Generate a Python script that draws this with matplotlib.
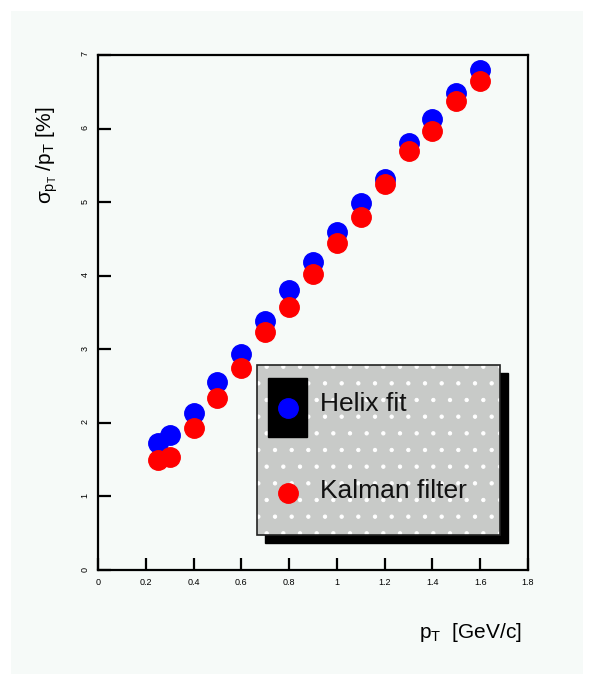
import matplotlib
matplotlib.use("Agg")
import matplotlib.pyplot as plt
from matplotlib.patches import Rectangle
from matplotlib.lines import Line2D

plt.rcParams["font.family"] = ["Liberation Sans", "DejaVu Sans"]
plt.rcParams["mathtext.fontset"] = "custom"
plt.rcParams["mathtext.rm"] = "Liberation Sans"
plt.rcParams["mathtext.it"] = "Liberation Sans"
plt.rcParams["hatch.color"] = "white"
plt.rcParams["hatch.linewidth"] = 0.7

# transverse momentum points [GeV/c]
pt = [0.25, 0.3, 0.4, 0.5, 0.6, 0.7, 0.8, 0.9, 1.0, 1.1, 1.2, 1.3, 1.4, 1.5, 1.6]
# relative resolution [%]
helix_fit = [1.73, 1.84, 2.14, 2.56, 2.94, 3.39, 3.81, 4.19, 4.60, 4.99, 5.31, 5.80, 6.13, 6.48, 6.80]
kalman_filter = [1.49, 1.54, 1.93, 2.34, 2.74, 3.24, 3.57, 4.02, 4.45, 4.80, 5.24, 5.69, 5.97, 6.37, 6.64]

xticks = [0, 0.2, 0.4, 0.6, 0.8, 1, 1.2, 1.4, 1.6, 1.8]
xticklabels = ["0", "0.2", "0.4", "0.6", "0.8", "1", "1.2", "1.4", "1.6", "1.8"]
yticks = [0, 1, 2, 3, 4, 5, 6, 7]

fig = plt.figure(figsize=(5.94, 6.85), dpi=100, facecolor="white")
bg = Rectangle((11 / 594, 11 / 685), 572 / 594, 663 / 685,
               transform=fig.transFigure, facecolor="#f6faf8",
               edgecolor="none", zorder=-5)
fig.patches.append(bg)

ax = fig.add_axes([98 / 594, 115 / 685, 430 / 594, 515 / 685], zorder=2)
ax.set_facecolor("#f6faf8")
ax.set_xlim(0, 1.8)
ax.set_ylim(0, 7)

ax.plot(pt, helix_fit, "o", color="#0000ff", ms=14, mec="#0000ff", zorder=3)
ax.plot(pt, kalman_filter, "o", color="#ff0000", ms=14, mec="#ff0000", zorder=4)

for s in ax.spines.values():
    s.set_linewidth(1.6)
ax.set_xticks(xticks)
ax.set_xticklabels(xticklabels)
ax.set_yticks(yticks)
ax.tick_params(direction="in", length=9, width=1.6, labelsize=6.5, pad=6)
ax.tick_params(axis="y", labelrotation=90)

# legend box with shadow and dotted fill
lx0, ly0, lw, lh = 0.370, 0.068, 0.565, 0.330
ax.add_patch(Rectangle((lx0 + 0.019, ly0 - 0.016), lw, lh, transform=ax.transAxes,
                       facecolor="black", edgecolor="black", zorder=5, clip_on=False))
ax.add_patch(Rectangle((lx0, ly0), lw, lh, transform=ax.transAxes,
                       facecolor="#c8cac8", edgecolor="white", hatch=".", lw=0,
                       zorder=6, clip_on=False))
ax.add_patch(Rectangle((lx0, ly0), lw, lh, transform=ax.transAxes,
                       facecolor="none", edgecolor="#222222", lw=1.2,
                       zorder=7, clip_on=False))
ax.add_patch(Rectangle((0.395, 0.258), 0.091, 0.115, transform=ax.transAxes,
                       facecolor="black", edgecolor="black", zorder=8))
ax.add_line(Line2D([0.442], [0.315], marker="o", color="#0000ff", ms=14,
                   transform=ax.transAxes, zorder=9))
ax.add_line(Line2D([0.442], [0.150], marker="o", color="#ff0000", ms=14,
                   transform=ax.transAxes, zorder=9))
ax.text(0.516, 0.322, "Helix fit", transform=ax.transAxes, fontsize=19,
        va="center", ha="left", color="#111111", zorder=9)
ax.text(0.516, 0.153, "Kalman filter", transform=ax.transAxes, fontsize=19,
        va="center", ha="left", color="#111111", zorder=9)

fig.text(0.079, 0.774, r"$\sigma_{p_{T}}$ /p$_{T}$ [%]", rotation=90,
         fontsize=15, ha="center", va="center")
fig.text(0.879, 0.077, r"p$_{T}$  [GeV/c]", fontsize=15, ha="right", va="center")

fig.savefig("out.png", dpi=100, facecolor=fig.get_facecolor())
